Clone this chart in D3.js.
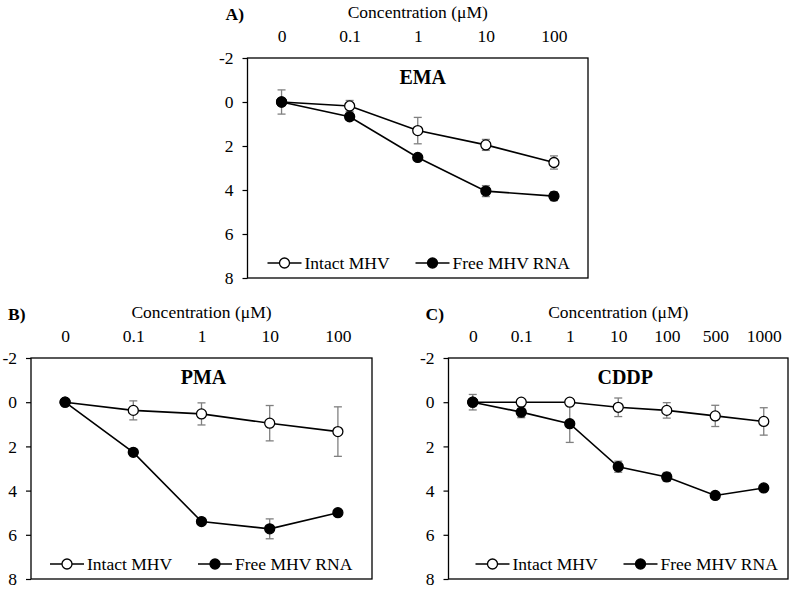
<!DOCTYPE html>
<html>
<head>
<meta charset="utf-8">
<script src="https://cdn.jsdelivr.net/npm/d3@7"></script>
<style>
  html, body { margin: 0; padding: 0; background: #fff; }
  svg { display: block; }
  text { font-family: "Liberation Serif", "Times New Roman", serif; fill: #000; }
</style>
</head>
<body>
<svg id="chart" width="791" height="591"></svg>
<script>
// ---------- data ----------
const yTicks = [-2, 0, 2, 4, 6, 8];
const seriesNames = ["Intact MHV", "Free MHV RNA"];
const xTitle = "Concentration (\u03bcM)";

const catsA = ["0", "0.1", "1", "10", "100"];
const emaIntact = [0, 0.18, 1.3, 1.95, 2.75];
const emaIntactErr = [0.55, 0.25, 0.6, 0.25, 0.3];
const emaFree = [0, 0.67, 2.52, 4.05, 4.28];
const emaFreeErr = [0.1, 0.15, 0.1, 0.25, 0.2];

const catsB = ["0", "0.1", "1", "10", "100"];
const pmaIntact = [0, 0.37, 0.53, 0.95, 1.33];
const pmaIntactErr = [0.05, 0.43, 0.5, 0.8, 1.12];
const pmaFree = [0, 2.27, 5.4, 5.73, 5.0];
const pmaFreeErr = [0.05, 0.1, 0.1, 0.45, 0.15];

const catsC = ["0", "0.1", "1", "10", "100", "500", "1000"];
const cddpIntact = [0, 0, 0, 0.23, 0.37, 0.62, 0.87];
const cddpIntactErr = [0.1, 0.05, 0.05, 0.42, 0.35, 0.48, 0.62];
const cddpFree = [0, 0.45, 0.97, 2.92, 3.38, 4.22, 3.88];
const cddpFreeErr = [0.35, 0.25, 0.85, 0.25, 0.2, 0.05, 0.05];

// ---------- layout ----------
const panels = [
  { label: "A)", name: "EMA", cats: catsA, intact: emaIntact, intactErr: emaIntactErr, free: emaFree, freeErr: emaFreeErr,
    box: { l: 247.5, r: 588, t: 58, b: 278 }, nameDx: 5, legendDx: 20 },
  { label: "B)", name: "PMA", cats: catsB, intact: pmaIntact, intactErr: pmaIntactErr, free: pmaFree, freeErr: pmaFreeErr,
    box: { l: 31, r: 372, t: 358, b: 579 }, nameDx: 2, legendDx: 19 },
  { label: "C)", name: "CDDP", cats: catsC, intact: cddpIntact, intactErr: cddpIntactErr, free: cddpFree, freeErr: cddpFreeErr,
    box: { l: 448.5, r: 788, t: 358, b: 579 }, nameDx: 7, legendDx: 27 }
];

const svg = d3.select("#chart");
const FS = 17.5;
const errColor = "#808080";

panels.forEach(p => {
  const { l, r, t, b } = p.box;
  const g = svg.append("g");
  const x = d3.scalePoint().domain(p.cats).range([l, r]).padding(0.5);
  const y = d3.scaleLinear().domain([-2, 8]).range([t, b]);

  // left axis
  const ya = g.append("g").attr("transform", `translate(${l},0)`)
    .call(d3.axisLeft(y).tickValues(yTicks).tickSize(5).tickPadding(9).tickFormat(d => String(d)));
  ya.select(".domain").remove();
  ya.selectAll("line").attr("stroke", "#000").attr("stroke-width", 1.2);
  ya.selectAll("text").attr("font-size", FS);

  // top category axis (labels only)
  const xa = g.append("g").attr("transform", `translate(0,${t})`)
    .call(d3.axisTop(x).tickSize(0).tickPadding(16));
  xa.select(".domain").remove();
  xa.selectAll("text").attr("font-size", FS);

  // box
  g.append("rect").attr("x", l).attr("y", t).attr("width", r - l).attr("height", b - t)
    .attr("fill", "none").attr("stroke", "#000").attr("stroke-width", 1.3);

  // axis title
  g.append("text").attr("x", (l + r) / 2).attr("y", t - 40).attr("text-anchor", "middle")
    .attr("font-size", FS).text(xTitle);
  // panel label
  g.append("text").attr("x", l - (p.label === "A)" ? 22 : 23)).attr("y", t - 38)
    .attr("font-size", FS).attr("font-weight", "bold").text(p.label);
  // chemical name
  g.append("text").attr("x", (l + r) / 2 + p.nameDx).attr("y", t + 26).attr("text-anchor", "middle")
    .attr("font-size", 20).attr("font-weight", "bold").text(p.name);

  const line = d3.line().x((d, i) => x(p.cats[i])).y(d => y(d));
  const series = [
    { vals: p.intact, err: p.intactErr, fill: "#fff" },
    { vals: p.free, err: p.freeErr, fill: "#000" }
  ];

  series.forEach(s => {
    g.append("path").datum(s.vals).attr("d", line)
      .attr("fill", "none").attr("stroke", "#000").attr("stroke-width", 1.6);
  });
  series.forEach(s => {
    const eg = g.append("g").attr("stroke", errColor).attr("stroke-width", 1.3);
    s.vals.forEach((v, i) => {
      const cx = x(p.cats[i]);
      const y1 = y(v - s.err[i]), y2 = y(v + s.err[i]);
      eg.append("line").attr("x1", cx).attr("x2", cx).attr("y1", y1).attr("y2", y2);
      eg.append("line").attr("x1", cx - 4).attr("x2", cx + 4).attr("y1", y1).attr("y2", y1);
      eg.append("line").attr("x1", cx - 4).attr("x2", cx + 4).attr("y1", y2).attr("y2", y2);
    });
  });
  series.forEach(s => {
    g.append("g").selectAll("circle").data(s.vals).join("circle")
      .attr("cx", (d, i) => x(p.cats[i])).attr("cy", d => y(d)).attr("r", 5)
      .attr("fill", s.fill).attr("stroke", "#000").attr("stroke-width", 1.3);
  });

  // legend
  const ly = b - 15;
  series.forEach((s, k) => {
    const lx = l + p.legendDx + k * 148;
    g.append("line").attr("x1", lx).attr("x2", lx + 34).attr("y1", ly).attr("y2", ly)
      .attr("stroke", "#000").attr("stroke-width", 1.6);
    g.append("circle").attr("cx", lx + 17).attr("cy", ly).attr("r", 5)
      .attr("fill", s.fill).attr("stroke", "#000").attr("stroke-width", 1.3);
    g.append("text").attr("x", lx + 37).attr("y", ly).attr("dy", "0.35em")
      .attr("font-size", FS).text(seriesNames[k]);
  });
});
</script>
</body>
</html>
